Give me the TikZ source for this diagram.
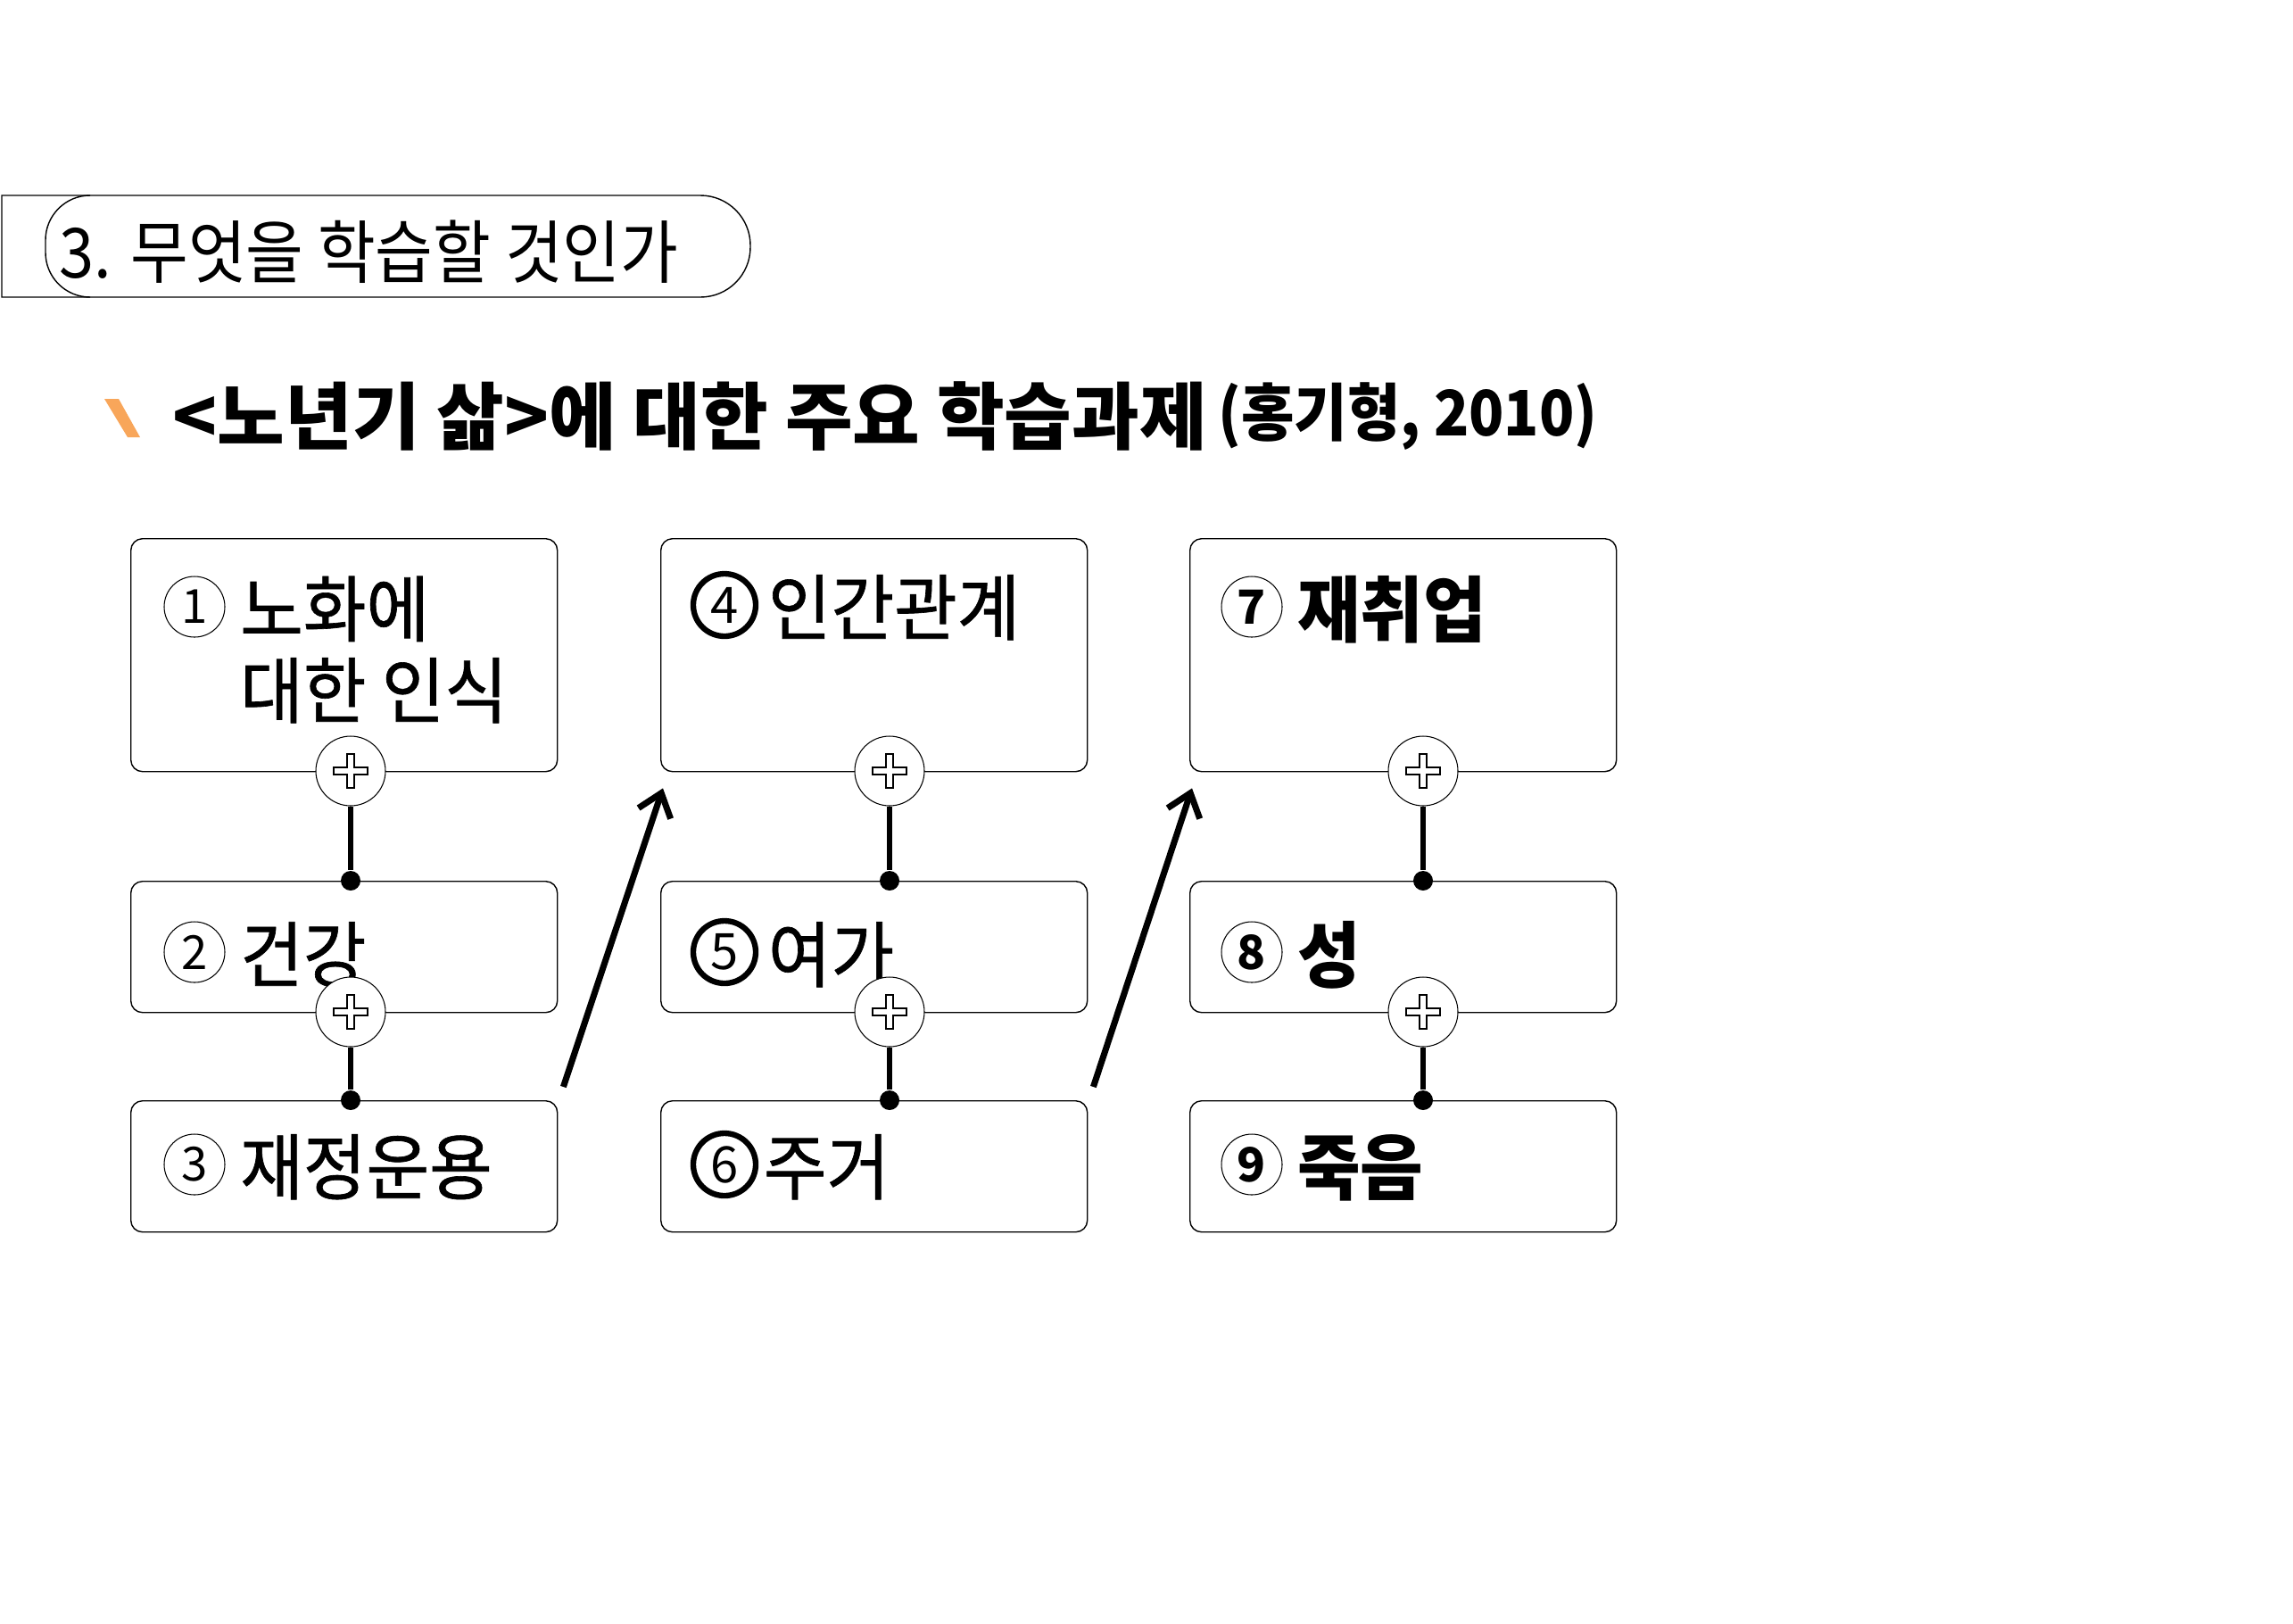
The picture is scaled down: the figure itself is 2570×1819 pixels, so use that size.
\documentclass[tikz,border=0pt]{standalone}
\usepackage{fontspec}
\newfontfamily\kr{Noto Sans CJK KR}
\newfontfamily\krnarrow[FakeStretch=0.95,FakeBold=0.8]{Noto Sans CJK KR}
\newfontfamily\krbold[FakeStretch=0.95]{Noto Sans CJK KR}
\newfontfamily\krtitle[FakeStretch=0.91]{Noto Sans CJK KR}
\newfontfamily\krhead{Noto Sans CJK KR}
\newfontfamily\krcite[FakeStretch=0.92]{Noto Sans CJK KR}
\usetikzlibrary{positioning,arrows.meta}
\definecolor{slashorange}{RGB}{248,166,90}

\tikzset{
  topic/.style={draw, rounded corners=1.3mm, line width=0.4pt, anchor=north west,
    minimum width=47.8mm, inner sep=0pt},
  tall/.style={topic, minimum height=26.1mm},
  short/.style={topic, minimum height=14.7mm},
  num/.style={circle, draw, line width=0.3pt, minimum size=6.8mm, inner sep=0pt,
    font=\kr\fontsize{15}{15}\selectfont},
  numthick/.style={num, line width=1.8pt, minimum size=7.0mm, font=\kr\fontsize{16}{16}\selectfont},
  item/.style={font=\krnarrow\fontsize{23}{26}\selectfont, inner sep=0pt,
    anchor=base west, align=left},
  itembold/.style={item, font=\krbold\bfseries\fontsize{23}{26}\selectfont},
  joint/.style={circle, draw, fill=white, line width=0.3pt, minimum size=7.8mm, inner sep=0pt},
  dot/.style={circle, fill=black, minimum size=2.2mm, inner sep=0pt},
  link/.style={line width=1.5pt},
  jump/.style={line width=2pt, -{Straight Barb[length=2.4mm,width=3.8mm]}}
}
\newcommand\plusmark[1]{\draw[line width=0.3pt] (#1) ++(-4,-19) -- ++(8,0) -- ++(0,15)
  -- ++(15,0) -- ++(0,8) -- ++(-15,0) -- ++(0,15) -- ++(-8,0) -- ++(0,-15)
  -- ++(-15,0) -- ++(0,-8) -- ++(15,0) -- cycle;}

\begin{document}
\begin{tikzpicture}[x=0.1mm,y=-0.1mm]
\useasboundingbox (0,0) rectangle (2570,1819);

% title tab
\draw[line width=0.4pt] (2,219) -- (440,219) [rounded corners=5.6mm] -- (841,219)
  -- (841,333) -- (440,333) [sharp corners] -- (2,333) -- cycle;
\draw[line width=0.4pt] (101,219) [rounded corners=5mm] -- (51,219) -- (51,333) -- (101,333);
\node[font=\krtitle\fontsize{22}{22}\selectfont, anchor=west, inner sep=0pt] (tab)
  at (66,282) {3. 무엇을 학습할 것인가};

% heading
\fill[slashorange] (117,447) -- (133,447) -- (157,490) -- (143,490) -- cycle;
\node[font=\krhead\bfseries\fontsize{23.4}{23.4}\selectfont, anchor=west, inner sep=0pt] (head)
  at (193,467) {<노년기 삶>에 대한 주요 학습과제};
\node[font=\krcite\bfseries\fontsize{20}{20}\selectfont, anchor=west, inner sep=0pt,
  right=1.1mm of head] (cite) {(홍기형, 2010)};

% boxes
\node[tall] (b1) at (146,603) {};
\node[short] (b2) at (146,987) {};
\node[short] (b3) at (146,1233) {};
\node[tall] (b4) at (740,603) {};
\node[short] (b5) at (740,987) {};
\node[short] (b6) at (740,1233) {};
\node[tall] (b7) at (1333,603) {};
\node[short] (b8) at (1333,987) {};
\node[short] (b9) at (1333,1233) {};

% numbers and topics
\node[num] (n1) at ([shift={(72,77)}]b1.north west) {1};
\node[num] (n2) at ([shift={(72,80)}]b2.north west) {2};
\node[num] (n3) at ([shift={(72,72)}]b3.north west) {3};
\node[numthick] (n4) at ([shift={(72,75)}]b4.north west) {4};
\node[numthick] (n5) at ([shift={(72,80)}]b5.north west) {5};
\node[numthick] (n6) at ([shift={(72,72)}]b6.north west) {6};
\node[num, font=\kr\bfseries\fontsize{15}{15}\selectfont] (n7) at ([shift={(70,77)}]b7.north west) {7};
\node[num, font=\kr\bfseries\fontsize{15}{15}\selectfont] (n8) at ([shift={(70,80)}]b8.north west) {8};
\node[num, font=\kr\bfseries\fontsize{15}{15}\selectfont] (n9) at ([shift={(70,72)}]b9.north west) {9};

\node[item] (t1) at ([shift={(16,124)}]n1.east) {노화에\\대한 인식};
\node[item] (t2) at ([shift={(16,33)}]n2.east) {건강};
\node[item] (t3) at ([shift={(16,33)}]n3.east) {재정운용};
\node[item] (t4) at ([shift={(10,33)}]n4.east) {인간관계};
\node[item] (t5) at ([shift={(10,33)}]n5.east) {여가};
\node[item] (t6) at ([shift={(5,33)}]n6.east) {주거};
\node[itembold] (t7) at ([shift={(16,33)}]n7.east) {재취업};
\node[itembold] (t8) at ([shift={(16,33)}]n8.east) {성};
\node[itembold] (t9) at ([shift={(16,33)}]n9.east) {죽음};

% joints
\node[joint] (j1) at (393,864) {}; \plusmark{j1}
\node[joint] (j2) at (393,1134) {}; \plusmark{j2}
\node[joint] (j3) at (997,864) {}; \plusmark{j3}
\node[joint] (j4) at (997,1134) {}; \plusmark{j4}
\node[joint] (j5) at (1595,864) {}; \plusmark{j5}
\node[joint] (j6) at (1595,1134) {}; \plusmark{j6}

\node[dot] (d1) at (393,987) {};
\node[dot] (d2) at (393,1233) {};
\node[dot] (d3) at (997,987) {};
\node[dot] (d4) at (997,1233) {};
\node[dot] (d5) at (1595,987) {};
\node[dot] (d6) at (1595,1233) {};

\draw[link] (j1) -- (d1);
\draw[link] (j2) -- (d2);
\draw[link] (j3) -- (d3);
\draw[link] (j4) -- (d4);
\draw[link] (j5) -- (d5);
\draw[link] (j6) -- (d6);

% jumps between columns
\coordinate (s1) at ([shift={(6,-15)}]b3.north east);
\coordinate (e1) at ([shift={(3,18)}]b4.south west);
\coordinate (s2) at ([shift={(6,-15)}]b6.north east);
\coordinate (e2) at ([shift={(3,18)}]b7.south west);
\draw[jump] (s1) -- (e1);
\draw[jump] (s2) -- (e2);
\end{tikzpicture}
\end{document}
